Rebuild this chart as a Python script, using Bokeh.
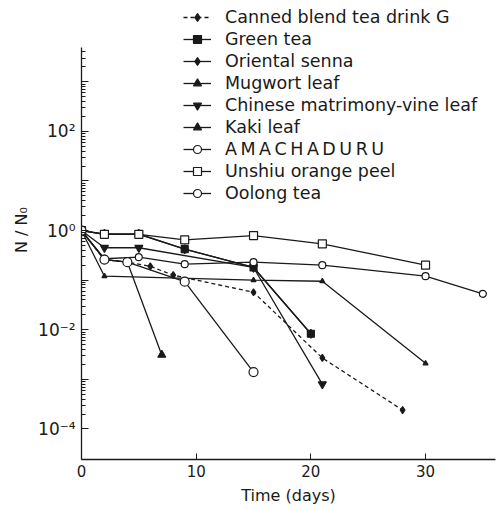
from bokeh.plotting import figure
from bokeh.models import Legend, LegendItem, FixedTicker, Range1d
from bokeh.embed import file_html
from bokeh.resources import INLINE

# ---- data (days, N/N0) ----
canned_days = [0, 2, 4, 6, 8, 15, 21, 28]
canned_vals = [1.0, 0.26, 0.23, 0.19, 0.126, 0.057, 0.0027, 0.00024]

green_days = [0, 2, 5, 9, 15, 20]
green_vals = [1.0, 0.84, 0.84, 0.42, 0.18, 0.0083]

senna_days = [0, 2, 5, 9, 15, 20]
senna_vals = [1.0, 0.86, 0.86, 0.42, 0.18, 0.0083]

mugwort_days = [0, 2, 4, 7]
mugwort_vals = [1.0, 0.26, 0.23, 0.0031]

chinese_days = [0, 2, 5, 15, 21]
chinese_vals = [1.0, 0.45, 0.45, 0.18, 0.0008]

kaki_days = [0, 2, 15, 21, 30]
kaki_vals = [1.0, 0.12, 0.10, 0.095, 0.0021]

amacha_days = [0, 2, 5, 9, 15, 21, 30, 35]
amacha_vals = [1.0, 0.27, 0.29, 0.21, 0.23, 0.20, 0.12, 0.053]

unshiu_days = [0, 2, 5, 9, 15, 21, 30]
unshiu_vals = [1.0, 0.84, 0.84, 0.65, 0.79, 0.54, 0.20]

oolong_days = [0, 2, 4, 9, 15]
oolong_vals = [1.0, 0.26, 0.23, 0.093, 0.0014]

series_names = [
    "Canned blend tea drink G",
    "Green tea",
    "Oriental senna",
    "Mugwort leaf",
    "Chinese matrimony-vine leaf",
    "Kaki leaf",
    "A\u2009M\u2009A\u2009C\u2009H\u2009A\u2009D\u2009U\u2009R\u2009U",
    "Unshiu orange peel",
    "Oolong tea",
]

x_ticks = [0, 10, 20, 30]
decades = [1e-4, 1e-3, 1e-2, 1e-1, 1.0, 1e1, 1e2, 1e3]
decade_labels = ["10\u207b\u2074", "", "10\u207b\u00b2", "", "10\u2070", "", "10\u00b2", ""]
y_min, y_axis_top = 2.42e-5, 4900

# ---- styles ----
INK = "#1a1a1a"
FONT = "DejaVu Sans"

styles = [
    dict(marker="diamond", size=7, fill=INK, dash="4 3"),
    dict(marker="square", size=7, fill=INK, dash="solid"),
    dict(marker="diamond", size=9, fill=INK, dash="solid"),
    dict(marker="triangle", size=8, fill=INK, dash="solid"),
    dict(marker="inverted_triangle", size=8, fill=INK, dash="solid"),
    dict(marker="triangle", size=5, fill=INK, dash="solid"),
    dict(marker="circle", size=7, fill="white", dash="solid"),
    dict(marker="square", size=8, fill="white", dash="solid"),
    dict(marker="circle", size=9, fill="white", dash="solid"),
]

data = [
    (canned_days, canned_vals),
    (green_days, green_vals),
    (senna_days, senna_vals),
    (mugwort_days, mugwort_vals),
    (chinese_days, chinese_vals),
    (kaki_days, kaki_vals),
    (amacha_days, amacha_vals),
    (unshiu_days, unshiu_vals),
    (oolong_days, oolong_vals),
]

# frame extends to the top of the canvas so the legend is not clipped;
# the y axis itself is bounded to the original data extent
TOP_PAD_PX = 47
PX_PER_DECADE = 49.6
y_max = y_axis_top * 10 ** (TOP_PAD_PX / PX_PER_DECADE)

p = figure(
    width=496, height=510,
    y_axis_type="log",
    x_range=Range1d(0, 36.1),
    y_range=Range1d(y_min, y_max),
    output_backend="svg",
    toolbar_location=None,
    min_border_left=81, min_border_right=1,
    min_border_top=0, min_border_bottom=51,
)
p.outline_line_color = None
p.xgrid.visible = False
p.ygrid.visible = False
p.background_fill_color = "white"

# x axis
xa = p.xaxis[0]
xa.ticker = FixedTicker(ticks=x_ticks, minor_ticks=[])
xa.major_tick_in = 6
xa.major_tick_out = 0
xa.minor_tick_in = 0
xa.minor_tick_out = 0
xa.axis_line_color = INK
xa.axis_line_width = 1.3
xa.major_tick_line_color = INK
xa.major_label_text_font = FONT
xa.major_label_text_font_size = "15px"
xa.major_label_text_color = INK
xa.major_label_standoff = 5
xa.axis_label = "Time (days)"
xa.axis_label_text_font = FONT
xa.axis_label_text_font_size = "16px"
xa.axis_label_text_font_style = "normal"
xa.axis_label_text_color = INK
xa.axis_label_standoff = 6

# y axis
minor = []
for d in decades:
    for m in range(2, 10):
        if d * m <= y_axis_top:
            minor.append(d * m)
ya = p.yaxis[0]
ya.bounds = (y_min, y_axis_top)
ya.ticker = FixedTicker(ticks=decades, minor_ticks=minor)
ya.major_label_overrides = {d: lab for d, lab in zip(decades, decade_labels)}
ya.major_tick_in = 7
ya.major_tick_out = 0
ya.minor_tick_in = 4
ya.minor_tick_out = 0
ya.axis_line_color = INK
ya.axis_line_width = 1.3
ya.major_tick_line_color = INK
ya.minor_tick_line_color = INK
ya.major_label_text_font = FONT
ya.major_label_text_font_size = "17px"
ya.major_label_text_color = INK
ya.major_label_standoff = 6
ya.axis_label = "N / N\u2080"
ya.axis_label_text_font = FONT
ya.axis_label_text_font_size = "16px"
ya.axis_label_text_font_style = "normal"
ya.axis_label_text_color = INK
ya.axis_label_standoff = 4

items = []
for name, (xs, ys), st in zip(series_names, data, styles):
    lr = p.line(xs, ys, line_color=INK, line_width=1.3, line_dash=st["dash"])
    mr = p.scatter(xs, ys, marker=st["marker"], size=st["size"],
                   fill_color=st["fill"], line_color=INK, line_width=1.2)
    items.append(LegendItem(label=name, renderers=[lr, mr]))

legend = Legend(
    items=items,
    location=(102, 256),
    padding=0, margin=0, spacing=2,
    glyph_width=28, glyph_height=20, label_height=20,
    label_standoff=14,
    label_text_font=FONT, label_text_font_size="17.5px", label_text_color=INK,
    border_line_color=None, background_fill_alpha=0,
)
p.add_layout(legend)

open("out.html", "w").write(file_html(p, INLINE))
